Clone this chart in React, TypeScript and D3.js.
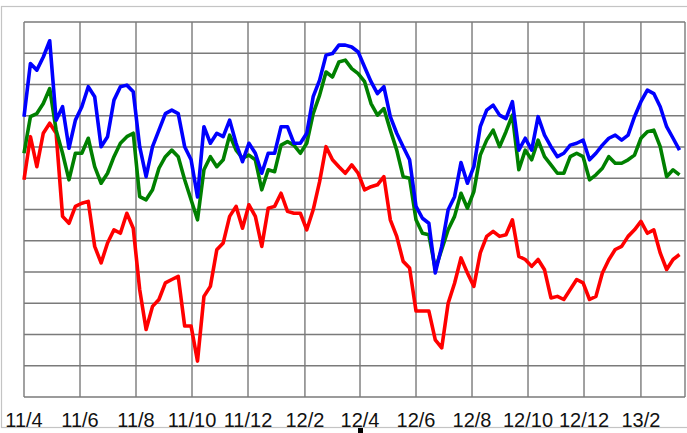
import React, { useEffect, useRef } from "react";
import * as d3 from "d3";

// weekly samples starting 2011-04-01
const startDate = new Date(2011, 3, 1);
const stepDays = 7;

const blueValues = [
  8.97, 10.67, 10.46, 10.88, 11.4, 8.86, 9.29, 7.96, 8.86, 9.29, 9.93, 9.61, 8.01, 8.33, 9.5, 9.93, 9.98, 9.77,
  8.01, 7.05, 8.01, 8.54, 9.07, 9.18, 9.07, 8.01, 7.59, 6.4, 8.65, 8.12, 8.44, 8.33, 8.86, 8.12, 7.53, 8.12,
  7.8, 7.16, 7.8, 7.8, 8.65, 8.65, 8.12, 8.12, 8.44, 9.61, 10.14, 10.94, 10.99, 11.26, 11.26, 11.2, 11.04, 10.56,
  10.09, 9.71, 9.93, 8.97, 8.44, 8.01, 7.59, 6.1, 5.72, 5.56, 3.97, 4.82, 5.99, 6.41, 7.5, 6.84, 7.37, 8.65,
  9.18, 9.34, 9.02, 8.91, 9.45, 7.9, 8.28, 7.9, 8.97, 8.38, 8.01, 7.69, 7.8, 8.06, 8.12, 8.22, 7.59, 7.8,
  8.06, 8.28, 8.38, 8.22, 8.38, 8.97, 9.45, 9.82, 9.71, 9.29, 8.65, 8.28, 7.9,
];

const greenValues = [
  7.8, 8.97, 9.07, 9.39, 9.87, 8.54, 7.8, 6.95, 7.8, 7.8, 8.28, 7.37, 6.84, 7.16, 7.69, 8.12, 8.33, 8.44,
  6.41, 6.31, 6.63, 7.32, 7.69, 7.9, 7.69, 6.95, 6.31, 5.67, 7.27, 7.69, 7.37, 7.59, 8.38, 7.9, 7.64, 7.74,
  7.59, 6.63, 7.27, 7.21, 8.06, 8.17, 8.06, 7.8, 8.12, 9.07, 9.66, 10.4, 10.24, 10.72, 10.78, 10.51, 10.35, 10.09,
  9.39, 9.02, 9.23, 8.54, 7.9, 7.05, 7.0, 5.67, 5.24, 5.19, 4.1, 4.72, 5.35, 5.78, 6.52, 6.04, 6.57, 7.74,
  8.22, 8.54, 8.01, 8.49, 9.02, 7.27, 7.9, 7.59, 8.22, 7.69, 7.43, 7.16, 7.16, 7.69, 7.8, 7.69, 6.95, 7.11,
  7.32, 7.69, 7.48, 7.48, 7.59, 7.74, 8.28, 8.49, 8.54, 8.01, 7.05, 7.27, 7.11,
];

const redValues = [
  6.95, 8.33, 7.37, 8.44, 8.76, 8.44, 5.78, 5.56, 6.1, 6.2, 6.26, 4.82, 4.29, 4.93, 5.35, 5.24, 5.88, 5.4,
  3.44, 2.16, 2.9, 3.12, 3.65, 3.76, 3.86, 2.27, 2.27, 1.15, 3.22, 3.54, 4.71, 4.93, 5.78, 6.1, 5.4, 6.15,
  5.78, 4.82, 6.04, 6.1, 6.52, 5.94, 5.88, 5.88, 5.35, 5.99, 6.89, 8.01, 7.59, 7.37, 7.16, 7.43, 7.16, 6.63,
  6.73, 6.79, 7.05, 5.67, 5.14, 4.34, 4.13, 2.75, 2.75, 2.75, 1.83, 1.57, 3.0, 3.64, 4.45, 3.97, 3.54, 4.61,
  5.14, 5.3, 5.14, 5.19, 5.67, 4.5, 4.4, 4.18, 4.4, 4.07, 3.17, 3.22, 3.12, 3.44, 3.76, 3.65, 3.12, 3.22,
  3.97, 4.39, 4.72, 4.82, 5.14, 5.35, 5.62, 5.24, 5.35, 4.61, 4.08, 4.4, 4.56,
];

const tickLabels = ["11/4", "11/6", "11/8", "11/10", "11/12", "12/2", "12/4", "12/6", "12/8", "12/10", "12/12", "13/2"];

const series = [
  { name: "red", color: "#ff0000", values: redValues },
  { name: "green", color: "#008000", values: greenValues },
  { name: "blue", color: "#0000ff", values: blueValues },
];

const W = 687;
const H = 433;
const left = 24;
const right = 685;
const top = 22;
const bottom = 397;

const parseTick = (s: string) => {
  const [yy, mm] = s.split("/").map(Number);
  return new Date(2000 + yy, mm - 1, 1);
};

const App = () => {
  const ref = useRef<SVGSVGElement>(null);

  useEffect(() => {
    const svg = d3.select(ref.current);
    svg.selectAll("*").remove();

    const x = d3.scaleTime()
      .domain([startDate, new Date(2013, 2, 21)])
      .range([left, right]);
    const y = d3.scaleLinear().domain([0, 12]).range([bottom, top]);

    svg.append("rect")
      .attr("x", 1.5).attr("y", 6.5)
      .attr("width", W + 4).attr("height", 421)
      .attr("fill", "none")
      .attr("stroke", "#c4c4c4")
      .attr("stroke-width", 1.2);

    const grid = svg.append("g").attr("stroke", "#7a7a7a").attr("stroke-width", 1.4);

    grid.selectAll("line.h")
      .data(d3.range(0, 13))
      .join("line")
      .attr("class", "h")
      .attr("x1", left).attr("x2", right)
      .attr("y1", d => y(d)).attr("y2", d => y(d));

    const tickDates = tickLabels.map(parseTick);
    grid.selectAll("line.v")
      .data([...tickDates, x.domain()[1]])
      .join("line")
      .attr("class", "v")
      .attr("x1", d => x(d)).attr("x2", d => x(d))
      .attr("y1", top).attr("y2", bottom);

    const line = d3.line<number>()
      .x((_, i) => x(d3.timeDay.offset(startDate, i * stepDays)))
      .y(d => y(d));

    svg.append("g")
      .selectAll("path")
      .data(series)
      .join("path")
      .attr("d", d => line(d.values))
      .attr("fill", "none")
      .attr("stroke", d => d.color)
      .attr("stroke-width", 3.6)
      .attr("stroke-linejoin", "round");

    svg.append("g")
      .selectAll("text")
      .data(tickLabels)
      .join("text")
      .attr("x", d => x(parseTick(d)))
      .attr("y", 427)
      .attr("text-anchor", "middle")
      .attr("font-family", "Liberation Sans, Arial, sans-serif")
      .attr("font-size", 20)
      .attr("fill", "#111")
      .text(d => d);

    svg.append("rect")
      .attr("x", 358).attr("y", 428)
      .attr("width", 5).attr("height", 5)
      .attr("fill", "#000");
  }, []);

  return (
    <svg
      ref={ref}
      width={W}
      height={H}
      style={{ position: "absolute", top: 0, left: 0, background: "#fff" }}
    />
  );
};

export default App;
